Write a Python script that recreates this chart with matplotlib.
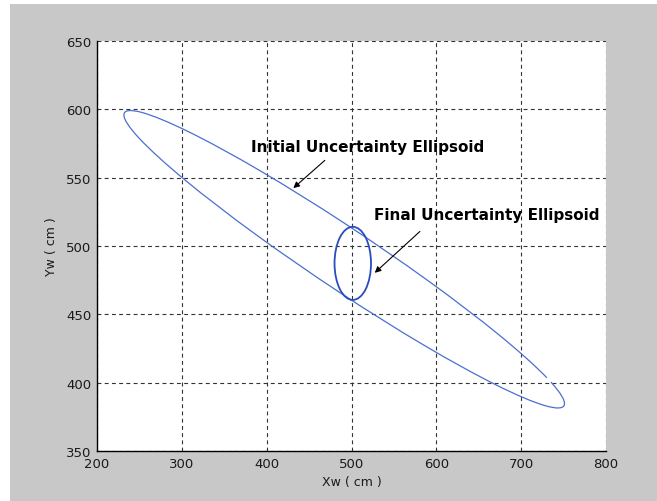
import numpy as np, matplotlib; matplotlib.use("Agg"); import matplotlib.pyplot as plt
from matplotlib.patches import Arc, Ellipse, Rectangle

# axis ticks
x_ticks=[200,300,400,500,600,700,800]
y_ticks=[350,400,450,500,550,600,650]
# initial uncertainty ellipse: center, full axes, rotation, drawn arc span
init_center=(491.4,490.3); init_w=561; init_h=49; init_angle=-22.3; init_span=(2.35,362.05)
# final uncertainty ellipse
final_center=(501.5,487.3); final_w=43; final_h=53.5; final_angle=0.0
# annotations: text, text pos, arrow tip
labels=["Initial Uncertainty Ellipsoid","Final Uncertainty Ellipsoid"]
label_xy=[(381,573),(526,523)]
arrow_from=[(471,564),(583,512)]
arrow_to=[(429,541),(525,479)]

fig=plt.figure(figsize=(6.57,5.02),dpi=100,facecolor="white")
fig.patches.append(Rectangle((10/657,0),1,(502-5)/502,transform=fig.transFigure,
                             facecolor="#c8c8c8",edgecolor="none",zorder=-1))
ax=fig.add_axes([97/657,50/502,509/657,410/502])
ax.set_xlim(200,800); ax.set_ylim(350,650)
ax.set_xticks(x_ticks); ax.set_yticks(y_ticks)
ax.tick_params(length=0,pad=4,labelsize=9.5,labelcolor="#1a1a1a")
ax.grid(True,color="#333",linestyle=(0,(3.5,3)),linewidth=0.8)
for s in ["top","right"]: ax.spines[s].set_visible(False)
for s in ["left","bottom"]: ax.spines[s].set_linewidth(1.0)

ax.add_patch(Arc(init_center,init_w,init_h,angle=init_angle,theta1=init_span[0],theta2=init_span[1],
                 color="#4a6fd0",lw=0.9,zorder=3))
ax.add_patch(Ellipse(final_center,final_w,final_h,angle=final_angle,fill=False,
                     edgecolor="#2a4cc0",lw=1.3,zorder=4))

for t,xy,a0,a1 in zip(labels,label_xy,arrow_from,arrow_to):
    ax.text(xy[0],xy[1],t,fontsize=11,fontweight="bold",family="DejaVu Sans",va="center",ha="left",zorder=5)
    ax.annotate("",xy=a1,xytext=a0,arrowprops=dict(arrowstyle="-|>",color="k",lw=0.8,mutation_scale=9),zorder=5)

ax.set_xlabel("Xw ( cm )",fontsize=9,color="#1a1a1a",labelpad=4)
ax.set_ylabel("Yw ( cm )",fontsize=9,color="#1a1a1a",labelpad=6)
fig.savefig("out.png",dpi=100,facecolor=fig.get_facecolor())
